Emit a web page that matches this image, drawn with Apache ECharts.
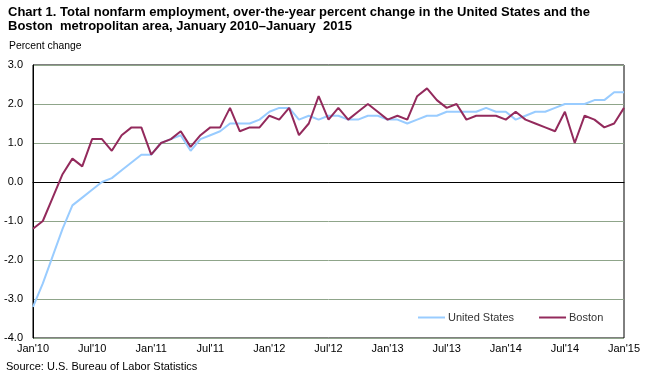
<!DOCTYPE html>
<html><head><meta charset="utf-8">
<script src="https://cdn.jsdelivr.net/npm/echarts@6/dist/echarts.min.js"></script>
<style>html,body{margin:0;padding:0;background:#fff}#c{width:651px;height:380px}</style>
</head><body><div id="c"></div>
<script>
const titleLines = ["Chart 1. Total nonfarm employment, over-the-year percent change in the United States and the", "Boston  metropolitan area, January 2010\u2013January  2015"];
const yAxisTitle = "Percent change";
const sourceText = "Source: U.S. Bureau of Labor Statistics";
const years = ["10","11","12","13","14"];
const monthNames = ["Jan","Feb","Mar","Apr","May","Jun","Jul","Aug","Sep","Oct","Nov","Dec"];
const categories = [];
years.forEach(y => monthNames.forEach(m => categories.push(m + "'" + y)));
categories.push("Jan'15");
const usValues = [-3.2,-2.6,-1.9,-1.2,-0.6,-0.4,-0.2,0.0,0.1,0.3,0.5,0.7,
  0.7,1.0,1.1,1.2,0.8,1.1,1.2,1.3,1.5,1.5,1.5,1.6,
  1.8,1.9,1.9,1.6,1.7,1.6,1.7,1.7,1.6,1.6,1.7,1.7,
  1.6,1.6,1.5,1.6,1.7,1.7,1.8,1.8,1.8,1.8,1.9,1.8,
  1.8,1.6,1.7,1.8,1.8,1.9,2.0,2.0,2.0,2.1,2.1,2.3,
  2.3];
const bostonValues = [-1.2,-1.0,-0.4,0.2,0.6,0.4,1.1,1.1,0.8,1.2,1.4,1.4,
  0.7,1.0,1.1,1.3,0.9,1.2,1.4,1.4,1.9,1.3,1.4,1.4,
  1.7,1.6,1.9,1.2,1.5,2.2,1.6,1.9,1.6,1.8,2.0,1.8,
  1.6,1.7,1.6,2.2,2.4,2.1,1.9,2.0,1.6,1.7,1.7,1.7,
  1.6,1.8,1.6,1.5,1.4,1.3,1.8,1.0,1.7,1.6,1.4,1.5,
  1.9];
const seriesNames = ["United States","Boston"];

const FONT = "'Liberation Sans',Arial,sans-serif";
const grid = '#8fa58a';
const chart = echarts.init(document.getElementById('c'), null, {renderer:'canvas'});
chart.setOption({
  animation:false,
  backgroundColor:'#fff',
  title:{text:titleLines.join('\n'), left:8, top:6, padding:0,
    textStyle:{fontFamily:FONT, fontWeight:'bold', fontSize:13, lineHeight:13.5, color:'#000'}},
  graphic:[
    {type:'text', left:9, top:40, scaleX:0.94, style:{text:yAxisTitle, font:"11px "+FONT, fill:'#000'}},
    {type:'text', left:6, top:361, style:{text:sourceText, font:"11px "+FONT, fill:'#000'}}
  ],
  legend:{data:seriesNames, left:413, top:307, icon:'rect', itemWidth:27, itemHeight:2, itemGap:25,
    textStyle:{fontFamily:FONT, fontSize:11, color:'#333', padding:[0,0,0,-2]}},
  grid:{left:33, right:27, top:65, bottom:42, show:true, borderColor:'#000', borderWidth:1, backgroundColor:'transparent'},
  xAxis:{type:'category', data:categories, boundaryGap:false,
    axisLine:{show:true, lineStyle:{color:'#000'}}, axisTick:{show:false},
    axisLabel:{interval:5, fontFamily:FONT, fontSize:11, color:'#000', margin:5},
    splitLine:{show:false}},
  yAxis:{type:'value', min:-4, max:3, interval:1,
    axisLine:{show:true, lineStyle:{color:'#000'}}, axisTick:{show:false},
    axisLabel:{formatter:v=>v.toFixed(1), fontFamily:FONT, fontSize:11, color:'#000', margin:10},
    splitLine:{show:true, lineStyle:{color:[grid,grid,grid,grid,'#000',grid,grid,grid], width:1}}},
  series:[
    {name:seriesNames[0], type:'line', data:usValues, symbol:'none', lineStyle:{color:'#99ccff', width:2}, itemStyle:{color:'#99ccff'}, z:2},
    {name:seriesNames[1], type:'line', data:bostonValues, symbol:'none', lineStyle:{color:'#932a5c', width:2}, itemStyle:{color:'#932a5c'}, z:3}
  ]
});
</script></body></html>
